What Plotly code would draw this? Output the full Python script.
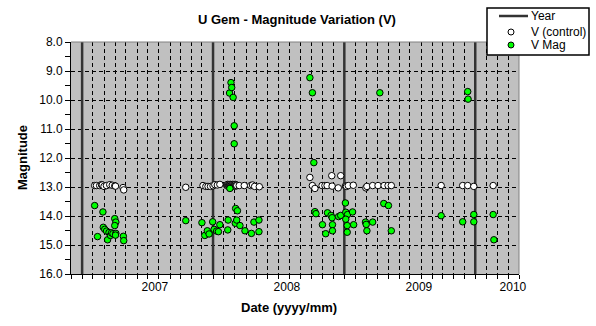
import plotly.graph_objects as go

# ---- data ----
year_dates = ["2006-06-01", "2007-06-01", "2008-06-01", "2009-06-01"]
year_mag_top = 8.0
year_mag_bottom = 16.0

control_dates = [
    "2006-07-06", "2006-07-11", "2006-07-20", "2006-07-25", "2006-07-27", "2006-08-01",
    "2006-08-08", "2006-08-17", "2006-08-24", "2006-08-31", "2006-09-02", "2006-09-23",
    "2006-09-25",
    "2007-03-17", "2007-05-04", "2007-05-12", "2007-05-18", "2007-05-25", "2007-06-01",
    "2007-06-06", "2007-06-13", "2007-06-20",
    "2007-07-09", "2007-07-10", "2007-07-11", "2007-07-12", "2007-07-13", "2007-07-14",
    "2007-07-15", "2007-07-16", "2007-07-17", "2007-07-18", "2007-07-19", "2007-07-20",
    "2007-07-21", "2007-07-22", "2007-07-23", "2007-07-24", "2007-07-25", "2007-07-26",
    "2007-07-27", "2007-07-28", "2007-07-29", "2007-07-30", "2007-07-31", "2007-08-01",
    "2007-08-02", "2007-08-03", "2007-08-04", "2007-08-05", "2007-08-06",
    "2007-08-13", "2007-08-27", "2007-09-14", "2007-09-19", "2007-09-25", "2007-10-08",
    "2008-02-26", "2008-03-04", "2008-03-11", "2008-03-31", "2008-04-08", "2008-04-14",
    "2008-04-27", "2008-04-28", "2008-05-15", "2008-05-22", "2008-06-04", "2008-06-05",
    "2008-06-07", "2008-06-12", "2008-06-26", "2008-07-31", "2008-08-03", "2008-08-19",
    "2008-09-03", "2008-09-20", "2008-10-01", "2008-10-10",
    "2009-02-26", "2009-04-27", "2009-05-11", "2009-05-28", "2009-07-21",
]
control_mags = [
    12.95, 12.95, 12.95, 12.92, 12.93, 12.98,
    12.95, 12.92, 12.94, 12.96, 12.97, 13.02,
    13.10,
    13.01, 12.95, 12.98, 12.98, 12.98, 12.96,
    12.92, 12.93, 12.91,
    12.93, 12.96, 12.95, 12.91, 12.97, 12.94,
    12.92, 12.96, 12.93, 12.95, 12.91, 12.97,
    12.94, 12.92, 12.96, 12.93, 12.95, 12.91,
    12.97, 12.94, 12.92, 12.96, 12.93, 12.95,
    12.91, 12.97, 12.94, 12.93, 12.95,
    12.95, 12.95, 12.95, 12.93, 12.98, 12.99,
    12.67, 12.95, 13.05, 12.95, 12.95, 12.95,
    12.61, 12.97, 13.03, 12.61, 12.97, 12.96,
    12.98, 12.95, 12.94, 13.03, 12.98, 12.95,
    12.95, 12.95, 12.95, 12.95,
    12.95, 12.95, 12.95, 12.98, 12.95,
]

vmag_dates = [
    "2006-07-06", "2006-07-14", "2006-07-29", "2006-07-30", "2006-08-03", "2006-08-08",
    "2006-08-11", "2006-08-15", "2006-08-19", "2006-08-22", "2006-08-26", "2006-08-31",
    "2006-09-03", "2006-08-31", "2006-09-03", "2006-09-02", "2006-09-24", "2006-09-25",
    "2007-03-17", "2007-05-01", "2007-05-09", "2007-05-16", "2007-05-21", "2007-05-31",
    "2007-06-04", "2007-06-11", "2007-06-16", "2007-06-20", "2007-07-12", "2007-07-13",
    "2007-07-18", "2007-07-17", "2007-07-21", "2007-07-23", "2007-07-27", "2007-07-30",
    "2007-07-30", "2007-08-02", "2007-08-03", "2007-08-06", "2007-08-08", "2007-08-15",
    "2007-08-29", "2007-09-16", "2007-09-23", "2007-10-07", "2007-10-07",
    "2008-02-26", "2008-03-04", "2008-03-08", "2008-03-11", "2008-03-14", "2008-04-01",
    "2008-04-10", "2008-04-15", "2008-04-25", "2008-04-28", "2008-04-29", "2008-04-29",
    "2008-05-16", "2008-05-22", "2008-06-04", "2008-06-05", "2008-06-10", "2008-06-24",
    "2008-06-05", "2008-06-09", "2008-06-27", "2008-06-09", "2008-07-30", "2008-08-01",
    "2008-08-19", "2008-08-03", "2008-09-08", "2008-09-19", "2008-10-02", "2008-10-10",
    "2009-02-26", "2009-04-27", "2009-05-11", "2009-05-12", "2009-05-28", "2009-05-28",
    "2009-07-21", "2009-07-23",
]
vmag_mags = [
    13.64, 14.71, 13.86, 14.39, 14.46, 14.52,
    14.82, 14.57, 14.67, 14.58, 14.61, 14.09,
    14.21, 14.33, 14.60, 14.66, 14.70, 14.85,
    14.16, 14.23, 14.67, 14.51, 14.62, 14.20,
    14.46, 14.52, 14.54, 14.30, 14.48, 14.14,
    13.05, 9.76, 9.40, 9.57, 9.91, 10.89,
    11.51, 14.25, 13.74, 14.14, 13.82, 14.33,
    14.51, 14.60, 14.21, 14.14, 14.54,
    9.23, 9.75, 12.16, 13.85, 13.92, 14.30,
    14.61, 13.89, 13.98, 14.06, 14.30, 14.51,
    14.02, 13.98, 13.55, 13.87, 13.95, 13.86,
    14.11, 14.33, 14.30, 14.56, 14.21, 14.29,
    14.21, 14.51, 9.75, 13.57, 13.64, 14.51,
    13.99, 14.20, 9.71, 9.97, 13.95, 14.20,
    13.95, 14.82,
]

x_tick_positions = ["2006-12-21", "2007-12-24", "2008-12-26", "2009-09-14"]
x_tick_labels = ["2007", "2008", "2009", "2010"]
x_range = ["2006-05-01", "2009-10-01"]
y_range = [16, 8]

legend_names = ["Year", "V (control)", "V Mag"]

# ---- build year line series ----
year_x, year_y = [], []
for d in year_dates:
    year_x += [d, d, None]
    year_y += [year_mag_top, year_mag_bottom, None]

FONT = "Liberation Sans, Arial, sans-serif"
YEAR_COLOR = "#333333"
GREEN = "#00FF00"

# plot-area pixel geometry (for converting layout positions to paper coords)
L, R, T, B = 71, 519, 42, 274
W, H = R - L, B - T


def px(xp):
    return (xp - L) / W


def py(yp):
    return (B - yp) / H


fig = go.Figure()
fig.add_trace(go.Scatter(
    x=year_x, y=year_y, mode="lines", name=legend_names[0],
    line=dict(color=YEAR_COLOR, width=2.5),
))
fig.add_trace(go.Scatter(
    x=control_dates, y=control_mags, mode="markers", name=legend_names[1],
    marker=dict(color="white", size=6.5, line=dict(color="black", width=1)),
))
fig.add_trace(go.Scatter(
    x=vmag_dates, y=vmag_mags, mode="markers", name=legend_names[2],
    marker=dict(color=GREEN, size=6.5, line=dict(color="black", width=1)),
))

# ---- legend box (drawn as layout shapes so it keeps the compact Excel look) ----
legend_shapes = [
    dict(type="rect", xref="paper", yref="paper", x0=px(487), x1=px(589), y0=py(8), y1=py(55),
         fillcolor="white", line=dict(color="black", width=1.5), layer="above"),
    dict(type="line", xref="paper", yref="paper", x0=px(499), x1=px(528), y0=py(16), y1=py(16),
         line=dict(color=YEAR_COLOR, width=2.5), layer="above"),
    dict(type="circle", xref="paper", yref="paper", xsizemode="pixel", ysizemode="pixel",
         xanchor=px(511), yanchor=py(32), x0=-3, x1=3, y0=-3, y1=3,
         fillcolor="white", line=dict(color="black", width=1), layer="above"),
    dict(type="circle", xref="paper", yref="paper", xsizemode="pixel", ysizemode="pixel",
         xanchor=px(511), yanchor=py(45), x0=-3, x1=3, y0=-3, y1=3,
         fillcolor=GREEN, line=dict(color="black", width=1), layer="above"),
]
legend_texts = [
    dict(text=name, xref="paper", yref="paper", x=px(529), y=py(yc),
         xanchor="left", yanchor="middle", showarrow=False,
         font=dict(family=FONT, size=12, color="black"))
    for name, yc in zip(legend_names, [16, 32, 45])
]

fig.update_layout(
    width=596, height=326,
    margin=dict(l=L, r=596 - R, t=T, b=326 - B, autoexpand=False),
    paper_bgcolor="white",
    plot_bgcolor="#C0C0C0",
    font=dict(family=FONT, size=12, color="black"),
    showlegend=False,
    xaxis=dict(
        type="date", range=x_range,
        tickmode="array", tickvals=x_tick_positions, ticktext=x_tick_labels,
        ticks="", showgrid=False, zeroline=False,
        showline=True, linecolor="black", linewidth=1,
        ticklabelstandoff=2,
        tickfont=dict(family=FONT, size=12, color="black"),
        minor=dict(dtick="M1", tick0="2006-05-01", ticks="outside", ticklen=4,
                   tickcolor="black", showgrid=True, gridcolor="black",
                   griddash="4px,3px", gridwidth=1),
    ),
    yaxis=dict(
        range=y_range, dtick=1, tick0=8, tickformat=".1f",
        ticks="outside", ticklen=5, tickcolor="black",
        showgrid=True, gridcolor="black", griddash="4px,3px", gridwidth=1,
        zeroline=False, showline=True, linecolor="black", linewidth=1,
        tickfont=dict(family=FONT, size=12, color="black"),
        minor=dict(dtick=0.5, ticks="outside", ticklen=5, tickcolor="black", showgrid=False),
    ),
    shapes=[
        dict(type="line", xref="paper", yref="paper", x0=0, x1=1, y0=1, y1=1,
             line=dict(color="#808080", width=1)),
        dict(type="line", xref="paper", yref="paper", x0=1, x1=1, y0=0, y1=1,
             line=dict(color="#808080", width=1)),
    ] + legend_shapes,
    annotations=[
        dict(text="<b>U Gem - Magnitude Variation (V)</b>", xref="paper", yref="paper",
             x=px(297), y=py(19), xanchor="center", yanchor="middle",
             showarrow=False, font=dict(family=FONT, size=13, color="black")),
        dict(text="<b>Magnitude</b>", xref="paper", yref="paper",
             x=px(22), y=py(158), xanchor="center", yanchor="middle",
             textangle=-90, showarrow=False, font=dict(family=FONT, size=13, color="black")),
        dict(text="<b>Date (yyyy/mm)</b>", xref="paper", yref="paper",
             x=px(289), y=py(307), xanchor="center", yanchor="middle",
             showarrow=False, font=dict(family=FONT, size=13, color="black")),
    ] + legend_texts,
)

fig.write_html("out.html")
